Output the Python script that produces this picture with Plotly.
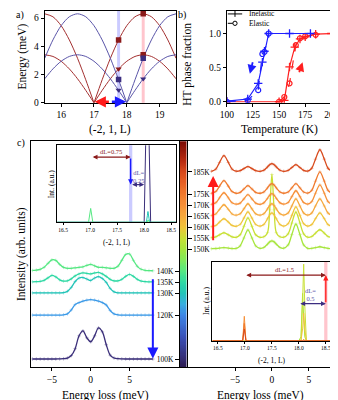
import numpy as np
import plotly.graph_objects as go

W, H = 338, 400
FONT = "Liberation Serif"

# ---------------- panel a: dispersion ----------------
L_grid = [15.5, 15.75, 16.0, 16.25, 16.5, 16.75, 17.0, 17.25, 17.5, 17.75,
          18.0, 18.25, 18.5, 18.75, 19.0, 19.25, 19.5]
red_high = [6.30, 6.09, 5.46, 4.45, 3.15, 1.63, 0.0, 1.63, 3.15, 4.45,
            5.46, 6.09, 6.30, 6.09, 5.46, 4.45, 3.15]
red_low = [3.40, 3.28, 2.94, 2.40, 1.70, 0.88, 0.0, 0.88, 1.70, 2.40,
           2.94, 3.28, 3.40, 3.28, 2.94, 2.40, 1.70]
blue_high = [3.15, 4.45, 5.46, 6.09, 6.30, 6.09, 5.46, 4.45, 3.15, 1.63,
             0.0, 1.63, 3.15, 4.45, 5.46, 6.09, 6.30]
blue_low = [1.70, 2.40, 2.94, 3.28, 3.40, 3.28, 2.94, 2.40, 1.70, 0.88,
            0.0, 0.88, 1.70, 2.40, 2.94, 3.28, 3.40]
band_L = [17.75, 18.5]
sq_red_L, sq_red_E = [17.75, 18.5, 18.5], [4.45, 6.3, 3.4]
tri_red_L, tri_red_E = [17.75], [2.4]
sq_blue_L, sq_blue_E = [17.75, 18.5], [1.65, 3.15]
tri_blue_L, tri_blue_E = [17.75, 18.5], [0.9, 1.7]

# ---------------- panel b: phase fraction ----------------
blue_inel_T = [100, 120, 130, 134, 136, 140, 160, 180]
blue_inel_f = [0.01, 0.04, 0.27, 0.58, 0.74, 1.0, 1.0, 1.0]
blue_el_T = [100, 120, 130, 134, 136, 140]
blue_el_f = [0.0, 0.02, 0.17, 0.70, 0.73, 1.0]
red_inel_T = [100, 150, 155, 160, 165, 170, 175, 185, 200]
red_inel_f = [0.0, 0.0, 0.02, 0.51, 0.80, 0.92, 0.95, 0.99, 1.0]
red_el_T = [150, 155, 160, 166, 170, 175, 185]
red_el_f = [0.0, 0.07, 0.27, 0.83, 0.93, 0.96, 0.98]

# ---------------- panel c: spectra ----------------
T_lo = [100, 120, 130, 135, 140]
T_hi = [150, 155, 160, 165, 170, 175, 185]
E_lo = [-7.5, -7.0, -6.5, -6.0, -5.5, -5.0, -4.5, -4.0, -3.5, -3.0, -2.5, -2.0,
        -1.5, -1.0, -0.5, 0.0, 0.5, 1.0, 1.5, 2.0, 2.5, 3.0, 3.5, 4.0, 4.5, 5.0,
        5.5, 6.0, 6.5, 7.0, 7.5, 8.0]
I_100 = [0.5, 0.5, 0.5, 0.5, 0.5, 0.5, 0.5, 0.6, 0.8, 1.5, 4, 11, 24, 29, 22, 18,
         24, 32, 28, 15, 4.5, 1.5, 0.8, 0.6, 0.5, 0.5, 0.5, 0.5, 0.5, 0.5, 0.5, 0.5]
I_120 = [0.3, 0.3, 0.3, 0.3, 0.3, 0.3, 0.3, 0.3, 0.6, 1.5, 5.5, 11, 13, 14.5, 15.5, 16,
         15.5, 14.5, 13, 10.5, 5, 1.5, 0.6, 0.3, 0.3, 0.3, 0.3, 0.3, 0.3, 0.3, 0.3, 0.3]
I_130 = [0.4, 0.4, 0.4, 0.4, 0.4, 0.4, 0.4, 0.4, 0.6, 2, 6, 12, 15.5, 16, 14.5, 13,
         15.5, 17, 15, 11, 5, 1.5, 0.5, 0.4, 0.4, 0.4, 0.4, 0.4, 0.4, 0.4, 0.4, 0.4]
I_135 = [0.5, 0.6, 1, 2, 4.5, 7, 5.5, 2.5, 1.2, 1.5, 3.5, 6.5, 8.5, 9.5, 9, 8.5,
         9.5, 10, 8.5, 6, 3, 1.5, 1.5, 3, 6, 8, 6, 3, 1.2, 0.6, 0.5, 0.5]
I_140 = [0.8, 1.2, 2, 4, 8, 11.5, 11, 7, 4, 3, 3, 3.5, 4, 4.5, 6, 7,
         5.5, 4, 4, 3.5, 3, 3, 5, 11, 17, 17.5, 11, 5, 2, 1, 0.7, 0.5]
E_hi = [-8.2, -7.6, -7.1, -6.5, -5.9, -5.4, -4.85, -4.3, -3.8, -3.25, -2.7, -2.2,
        -1.6, -1.1, -0.6, -0.3, 0.0, 0.3, 0.6, 1.1, 1.6, 2.2, 2.7, 3.25, 3.8, 4.3,
        4.85, 5.4, 5.9, 6.5, 7.1, 7.6, 8.2, 8.6]
I_150 = [0.5, 0.7, 1.1, 1.5, 1.1, 0.7, 0.8, 3.4, 11.3, 19.5, 11.3, 3.4, 0.9, 1.7, 5.1, 7.4, 8.5,
         7.4, 5.1, 1.7, 1.0, 4.3, 14.8, 25.5, 14.8, 4.3, 0.9, 0.8, 1.6, 2.5, 1.6, 0.8, 0.5, 0.5]
I_155 = [0.5, 1.3, 3.4, 5.5, 3.4, 1.3, 0.9, 3.5, 11.9, 20.5, 11.9, 3.5, 0.9, 1.4, 5.6, 28.7, 64.5,
         28.7, 5.6, 1.4, 1.0, 4.4, 15.3, 26.5, 15.3, 4.4, 1.0, 1.7, 5.1, 8.5, 5.1, 1.7, 0.6, 0.5]
I_160 = [0.6, 1.7, 5.1, 8.5, 5.1, 1.7, 0.9, 2.8, 9.1, 15.5, 9.1, 2.8, 1.0, 2.6, 8.5, 12.5, 14.5,
         12.5, 8.5, 2.6, 1.0, 3.5, 11.9, 20.5, 11.9, 3.5, 1.0, 2.6, 8.5, 14.5, 8.5, 2.6, 0.6, 0.5]
I_165 = [0.6, 2.2, 6.8, 11.5, 6.8, 2.2, 0.9, 2.3, 7.3, 12.5, 7.3, 2.3, 0.9, 2.3, 7.3, 10.8, 12.5,
         10.8, 7.3, 2.3, 1.0, 3.1, 10.2, 17.5, 10.2, 3.1, 1.0, 3.1, 10.2, 17.5, 10.2, 3.1, 0.7, 0.5]
I_170 = [0.6, 2.3, 7.3, 12.5, 7.3, 2.3, 0.9, 2.0, 6.2, 10.5, 6.2, 2.0, 0.8, 2.2, 6.8, 10.0, 11.5,
         10.0, 6.8, 2.2, 0.9, 2.6, 8.5, 14.5, 8.5, 2.6, 1.0, 3.5, 11.9, 20.5, 11.9, 3.5, 0.7, 0.5]
I_175 = [0.6, 2.5, 7.9, 13.5, 7.9, 2.5, 0.8, 1.7, 5.1, 8.5, 5.1, 1.7, 0.8, 2.0, 6.2, 9.1, 10.5,
         9.1, 6.2, 2.0, 0.8, 2.0, 6.2, 10.5, 6.2, 2.0, 1.0, 3.8, 13.0, 22.5, 13.0, 3.8, 0.7, 0.5]
I_185 = [0.7, 2.9, 9.6, 16.5, 9.6, 2.9, 0.8, 1.3, 3.4, 5.5, 3.4, 1.3, 0.7, 1.7, 5.1, 7.4, 8.5,
         7.4, 5.1, 1.7, 0.7, 1.6, 4.5, 7.5, 4.5, 1.6, 0.9, 3.8, 13.0, 22.5, 13.0, 3.8, 0.7, 0.5]
I_lo = [I_100, I_120, I_130, I_135, I_140]
I_hi = [I_150, I_155, I_160, I_165, I_170, I_175, I_185]
col_lo = ['#3b2f7a', '#3d9be8', '#22c4b8', '#2ed9a4', '#55e882']
col_hi = ['#a6e63c', '#c8e034', '#f0c43a', '#f6a83c', '#f69038', '#f07a2e', '#d84a1c']
INT_SCALE = 1 / 2.235  # intensity units -> offset (K) units

# insets
insA_L = [16.39, 16.97, 17.01, 17.05, 18.00, 18.04, 18.06, 18.07, 18.09, 18.10, 18.12, 18.59]
insA_T = [100, 130, 140]
insA_I = [[0, 0, 0, 0, 0, 1.47, 2.2, 1.83, 1.1, 0.73, 0, 0],
          [0, 0, 0, 0, 0, 0, 0.09, 0.14, 0.05, 0, 0, 0],
          [0, 0, 0.18, 0, 0, 0, 0, 0.03, 0, 0, 0, 0]]
insA_col = ['#3b2f7a', '#22c4b8', '#55e882']
insB_L = [16.40, 16.96, 16.99, 17.02, 18.00, 18.04, 18.07, 18.09, 18.11, 18.14, 18.62]
insB_T = [150, 155, 160, 170, 175, 185]
insB_I = [[0, 0, 0, 0, 0, 0.05, 0.6, 0.3, 0.05, 0, 0],
          [0, 0, 0, 0, 0, 0, 0.5, 0.97, 0.45, 0, 0],
          [0, 0, 0, 0, 0, 0, 0.15, 0.35, 0.15, 0, 0],
          [0, 0, 0.31, 0, 0, 0, 0, 0.02, 0, 0, 0],
          [0, 0, 0.22, 0, 0, 0, 0, 0, 0, 0, 0],
          [0, 0, 0.15, 0, 0, 0, 0, 0, 0, 0, 0]]
insB_col = ['#a6e63c', '#c8e034', '#f0c43a', '#f69038', '#f07a2e', '#d84a1c']

# colour bar
T_MIN, T_MAX = 96.4, 198.9
cs_T = [96.4, 100, 110, 120, 125, 130, 135, 140, 145, 150, 155, 160, 165, 170, 175, 180, 185, 190, 198.9]
cs_col = ['#2a1b50', '#332a70', '#3a50b8', '#3d86e6', '#38aee0', '#22c4b8', '#2ed9a4', '#55e882',
          '#80ea5a', '#a6e63c', '#c8e034', '#f0c43a', '#f6a83c', '#f69038', '#f07a2e', '#e86024',
          '#d84a1c', '#b82a10', '#7a0a04']


def fx(p):
    return p / W


def fy(p):
    return 1 - p / H


def arches(xs, ys):
    ox, oy = [], []
    for i, (a, b) in enumerate(zip(xs, ys)):
        ox.append(a)
        oy.append(b)
        if b == 0 and 0 < i < len(xs) - 1:
            ox += [None, a]
            oy += [None, b]
    return ox, oy


fig = go.Figure()
RED_L, BLUE_L = '#a33030', '#5a55a8'
RED_M, BLUE_M = '#8b1a1a', '#3b2d80'

# panel a
for ys, c in [(red_high, RED_L), (red_low, RED_L), (blue_high, BLUE_L), (blue_low, BLUE_L)]:
    ax_, ay_ = arches(L_grid, ys)
    fig.add_trace(go.Scatter(x=ax_, y=ay_, mode='lines', line=dict(color=c, width=1, shape='spline', smoothing=0.8),
                             xaxis='x', yaxis='y', hoverinfo='skip'))
for xs, ys, sym, c in [(sq_red_L, sq_red_E, 'square', RED_M), (tri_red_L, tri_red_E, 'triangle-down', RED_M),
                       (sq_blue_L, sq_blue_E, 'square', BLUE_M), (tri_blue_L, tri_blue_E, 'triangle-down', BLUE_M)]:
    fig.add_trace(go.Scatter(x=xs, y=ys, mode='markers', marker=dict(symbol=sym, size=5.5, color=c),
                             xaxis='x', yaxis='y'))

# panel b
PB_BLUE, PB_RED = '#1f1fff', '#ff2020'
fig.add_trace(go.Scatter(x=red_inel_T, y=red_inel_f, mode='lines+markers', xaxis='x2', yaxis='y2',
                         line=dict(color=PB_RED, width=1.2),
                         marker=dict(symbol='cross-thin', size=6, line=dict(color=PB_RED, width=1.3))))
fig.add_trace(go.Scatter(x=red_el_T, y=red_el_f, mode='lines+markers', xaxis='x2', yaxis='y2',
                         line=dict(color=PB_RED, width=1.2, dash='dash'),
                         marker=dict(symbol='circle-open', size=5, line=dict(color=PB_RED, width=1.2))))
fig.add_trace(go.Scatter(x=blue_inel_T, y=blue_inel_f, mode='lines+markers', xaxis='x2', yaxis='y2',
                         line=dict(color=PB_BLUE, width=1.2),
                         marker=dict(symbol='cross-thin', size=6, line=dict(color=PB_BLUE, width=1.3))))
fig.add_trace(go.Scatter(x=blue_el_T, y=blue_el_f, mode='lines+markers', xaxis='x2', yaxis='y2',
                         line=dict(color=PB_BLUE, width=1.2, dash='dash'),
                         marker=dict(symbol='circle-open', size=5, line=dict(color=PB_BLUE, width=1.2))))

# panel c spectra
for T, I, c in zip(T_lo, I_lo, col_lo):
    fig.add_trace(go.Scatter(x=E_lo, y=[T + v * INT_SCALE for v in I], mode='lines+markers',
                             xaxis='x3', yaxis='y3',
                             line=dict(color=c, width=1.3, shape='spline', smoothing=0.9),
                             marker=dict(symbol='cross-thin', size=2.5, opacity=0.6,
                                         line=dict(color=c, width=0.6))))
for T, I, c in zip(T_hi, I_hi, col_hi):
    fig.add_trace(go.Scatter(x=E_hi, y=[T + v * INT_SCALE for v in I], mode='lines+markers',
                             xaxis='x4', yaxis='y4',
                             line=dict(color=c, width=1.3, shape='spline', smoothing=0.9),
                             marker=dict(symbol='cross-thin', size=2.5, opacity=0.6,
                                         line=dict(color=c, width=0.6))))

# colour bar column
cb_T = np.linspace(T_MIN, T_MAX, 206)
colorscale = [[(t - T_MIN) / (T_MAX - T_MIN), c] for t, c in zip(cs_T, cs_col)]
fig.add_trace(go.Heatmap(x=[0.5], y=cb_T, z=[[t] for t in cb_T], colorscale=colorscale,
                         zmin=T_MIN, zmax=T_MAX, showscale=False, xaxis='x5', yaxis='y5', hoverinfo='skip'))
fig.add_trace(go.Scatter(x=[None], y=[None], xaxis='x5', yaxis='y6', mode='markers'))

# insets
for T, I, c in zip(insA_T, insA_I, insA_col):
    fig.add_trace(go.Scatter(x=insA_L, y=I, mode='lines', xaxis='x7', yaxis='y7', line=dict(color=c, width=1)))
for T, I, c in zip(insB_T, insB_I, insB_col):
    fig.add_trace(go.Scatter(x=insB_L, y=I, mode='lines', xaxis='x8', yaxis='y8', line=dict(color=c, width=1)))

# ---------------- axes ----------------
base = dict(showgrid=False, zeroline=False, showline=True, linecolor='black', linewidth=1,
            ticks='outside', ticklen=3, tickwidth=1, tickcolor='black',
            tickfont=dict(size=9.5, family=FONT, color='black'))
ya = [fy(96), fy(3)]
yc = [fy(364), fy(135)]
lay = dict(
    xaxis=dict(base, domain=[fx(31), fx(168)], range=[15.5, 19.5], tickvals=[16, 17, 18, 19], mirror=True, anchor='y'),
    yaxis=dict(base, domain=ya, range=[0, 6.5], tickvals=[0, 2, 4, 6], mirror=True, anchor='x'),
    xaxis2=dict(base, domain=[fx(221), fx(330)], range=[100, 200], tickvals=[100, 125, 150, 175, 200],
                mirror=True, anchor='y2'),
    yaxis2=dict(base, domain=ya, range=[-0.015, 1.33], tickvals=[0, 0.5, 1.0], ticktext=['0.0', '0.5', '1.0'],
                mirror=True, anchor='x2'),
    xaxis3=dict(base, domain=[fx(17), fx(172)], range=[-7.65, 11.48], tickvals=[-5, 0, 5], mirror=True, anchor='y3'),
    yaxis3=dict(base, domain=yc, range=[T_MIN, T_MAX], showticklabels=False, ticks='', anchor='x3'),
    xaxis4=dict(base, domain=[fx(179), fx(334)], range=[-11.56, 8.57], tickvals=[-5, 0, 5], mirror=True, anchor='y4'),
    yaxis4=dict(base, domain=yc, range=[T_MIN, T_MAX], showticklabels=False, ticks='', side='right', anchor='x4'),
    xaxis5=dict(base, domain=[fx(172), fx(179)], range=[0, 1], showticklabels=False, ticks='', mirror=True, anchor='y5'),
    yaxis5=dict(base, domain=yc, range=[T_MIN, T_MAX], tickvals=T_lo, ticktext=[f'{t}K' for t in T_lo],
                ticklen=4, tickfont=dict(size=7.5, family=FONT, color='black'), mirror=True, anchor='x5'),
    yaxis6=dict(base, domain=yc, range=[T_MIN, T_MAX], tickvals=T_hi, ticktext=[f'{t}K' for t in T_hi],
                ticklen=4, tickfont=dict(size=7.5, family=FONT, color='black'), overlaying='y5', side='right',
                anchor='x5'),
    xaxis7=dict(base, domain=[fx(44), fx(168)], range=[16.39, 18.59], tickvals=[16.5, 17.0, 17.5, 18.0, 18.5],
                tickformat='.1f', ticklen=2, tickfont=dict(size=5.5, family=FONT, color='black'), mirror=True,
                anchor='y7'),
    yaxis7=dict(base, domain=[fy(217), fy(139)], range=[0, 1], showticklabels=False, ticks='', mirror=True,
                anchor='x7'),
    xaxis8=dict(base, domain=[fx(206), fx(331)], range=[16.4, 18.62], tickvals=[16.5, 17.0, 17.5, 18.0, 18.5],
                tickformat='.1f', ticklen=2, tickfont=dict(size=5.5, family=FONT, color='black'), mirror=True,
                anchor='y8'),
    yaxis8=dict(base, domain=[fy(337), fy(257)], range=[0, 1], showticklabels=False, ticks='', mirror=True,
                anchor='x8'),
)

shapes = []
# bands panel a
band_cols = ['rgba(140,140,255,0.45)', 'rgba(255,140,155,0.5)']
for Lb, bc in zip(band_L, band_cols):
    shapes.append(dict(type='rect', xref='x', yref='y domain', x0=Lb - 0.045, x1=Lb + 0.045, y0=0, y1=1,
                       fillcolor=bc, line=dict(width=0), layer='below'))
shapes.append(dict(type='rect', xref='x7', yref='y7 domain', x0=band_L[0] - 0.03, x1=band_L[0] + 0.03, y0=0, y1=1,
                   fillcolor=band_cols[0], line=dict(width=0), layer='below'))
shapes.append(dict(type='rect', xref='x8', yref='y8 domain', x0=band_L[1] - 0.03, x1=band_L[1] + 0.03, y0=0, y1=1,
                   fillcolor=band_cols[1], line=dict(width=0), layer='below'))
# manual legend for panel b
shapes += [
    dict(type='line', xref='paper', yref='paper', x0=fx(222), x1=fx(237), y0=fy(6), y1=fy(6),
         line=dict(color='black', width=1)),
    dict(type='line', xref='paper', yref='paper', x0=fx(229.5), x1=fx(229.5), y0=fy(3), y1=fy(9),
         line=dict(color='black', width=1)),
    dict(type='line', xref='paper', yref='paper', x0=fx(222), x1=fx(237), y0=fy(15.5), y1=fy(15.5),
         line=dict(color='black', width=1, dash='dash')),
    dict(type='circle', xref='paper', yref='paper', x0=fx(227.3), x1=fx(231.7), y0=fy(17.7), y1=fy(13.3),
         line=dict(color='black', width=1), fillcolor='white'),
]

ann = []


def txt(x, y, s, size=11, angle=0, color='black', xanchor='center'):
    ann.append(dict(x=fx(x), y=fy(y), xref='paper', yref='paper', text=s, showarrow=False, textangle=angle,
                    xanchor=xanchor, yanchor='middle', font=dict(size=size, family=FONT, color=color)))


def arrow(x, y, ax_, ay_, xr, yr, color, width=2, head=2, size=1.0, both=False):
    ann.append(dict(x=x, y=y, ax=ax_, ay=ay_, xref=xr, yref=yr, axref=xr, ayref=yr, text='', showarrow=True,
                    arrowhead=head, arrowsize=size, arrowwidth=width, arrowcolor=color, standoff=0,
                    startstandoff=0, arrowside='end+start' if both else 'end', startarrowhead=head,
                    startarrowsize=size))


txt(5, 7, 'a)', 10)
txt(174, 7, 'b)', 10)
txt(6, 137, 'c)', 10)
txt(8, 49.5, 'Energy (meV)', 11.5, -90)
txt(99.5, 123, '(-2, 1, L)', 11.5)
txt(180, 57, 'HT phase fraction', 11.5, -90)
txt(275.5, 123, 'Temperature (K)', 11.5)
txt(7, 249.5, 'Intensity (arb. units)', 11.5, -90)
txt(94.5, 392, 'Energy loss (meV)', 11.5)
txt(256.5, 392, 'Energy loss (meV)', 11.5)
txt(38, 178, 'Int. (a.u.)', 7.5, -90)
txt(106, 237, '(-2, 1, L)', 7.5)
txt(200, 297, 'Int. (a.u.)', 7.5, -90)
txt(268.5, 357, '(-2, 1, L)', 7.5)
txt(242, 6, 'Inelastic', 7.5, xanchor='left')
txt(242, 15.5, 'Elastic', 7.5, xanchor='left')

# panel a arrows
arrow(17.02, 0.07, 17.5, 0.07, 'x', 'y', '#ff1a1a', width=2.5, size=0.9)
arrow(17.98, 0.07, 17.5, 0.07, 'x', 'y', '#1a1aff', width=2.5, size=0.9)
# panel b arrows
arrow(122.0, 0.41, 125.1, 0.60, 'x2', 'y2', PB_BLUE, width=1.8, size=1.0)
arrow(172.5, 0.58, 168.8, 0.41, 'x2', 'y2', PB_RED, width=1.8, size=1.0)
# panel c arrows
arrow(8.0, 100.5, 8.0, 137.0, 'x3', 'y3', '#1a1aff', width=2, size=1.1)
arrow(-7.96, 183.2, -7.96, 153.4, 'x4', 'y4', '#ff1a1a', width=2, size=1.1)
# left inset arrows
DR, IND = '#8b1a1a', '#3b2d80'
arrow(17.75, 0.846, 17.02, 0.846, 'x7', 'y7', DR, width=1.2, size=0.8, both=True)
arrow(17.75, 0.49, 17.75, 0.846, 'x7', 'y7', '#1a1aff', width=1.3, size=0.8)
arrow(18.0, 0.49, 17.75, 0.49, 'x7', 'y7', IND, width=1.2, size=0.8, both=True)
ann.append(dict(x=17.38, y=0.92, xref='x7', yref='y7', text='dL=0.75', showarrow=False,
                font=dict(size=6.5, family=FONT, color=DR)))
ann.append(dict(x=17.9, y=0.6, xref='x7', yref='y7', text='dL=<br>0.25', showarrow=False,
                font=dict(size=6.5, family=FONT, color='#5a55a8')))
# right inset arrows
arrow(18.5, 0.83, 17.0, 0.83, 'x8', 'y8', DR, width=1.2, size=0.8, both=True)
arrow(18.5, 0.83, 18.5, 0.47, 'x8', 'y8', '#ff1a1a', width=1.3, size=0.8)
arrow(18.5, 0.47, 18.0, 0.47, 'x8', 'y8', IND, width=1.2, size=0.8, both=True)
ann.append(dict(x=17.74, y=0.9, xref='x8', yref='y8', text='dL=1.5', showarrow=False,
                font=dict(size=6.5, family=FONT, color=DR)))
ann.append(dict(x=18.22, y=0.58, xref='x8', yref='y8', text='dL=<br>0.5', showarrow=False,
                font=dict(size=6.5, family=FONT, color='#5a55a8')))

fig.update_layout(width=W, height=H, margin=dict(l=0, r=0, t=0, b=0), paper_bgcolor='white',
                  plot_bgcolor='rgba(0,0,0,0)', showlegend=False, font=dict(family=FONT, color='black'),
                  shapes=shapes, annotations=ann, **lay)
fig.write_html("out.html")
